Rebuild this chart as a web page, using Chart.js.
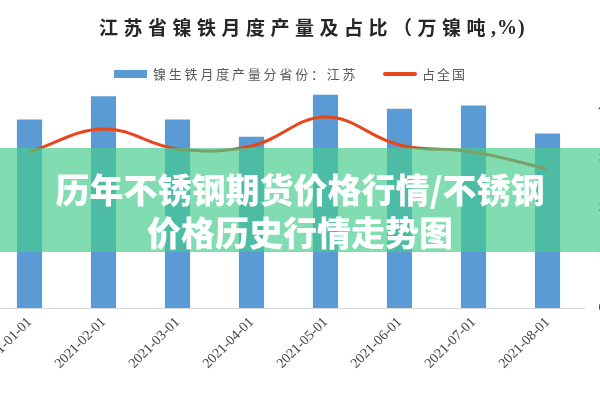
<!DOCTYPE html>
<html>
<head>
<meta charset="utf-8">
<script src="https://cdn.jsdelivr.net/npm/chart.js@4.4.0/dist/chart.umd.min.js"></script>
<style>
  html, body { margin: 0; padding: 0; background: #fff; overflow: hidden; }
  body { width: 600px; height: 400px; position: relative; }
  /* the picture is a crop of a wider chart: shift the canvas left */
  #chart { position: absolute; left: -50px; top: 0; }
  .banner {
    position: absolute; left: 0; top: 148px; width: 600px; height: 104px;
    box-sizing: border-box; padding-top: 19px;
    background: rgba(69, 205, 140, 0.68);
    color: #fff; text-align: center;
    font-family: "Noto Sans CJK SC", sans-serif; font-weight: 900;
    font-size: 34px; line-height: 43px;
  }
</style>
</head>
<body>
<canvas id="chart" width="700" height="400"></canvas>
<div class="banner">历年不锈钢期货价格行情/不锈钢<br>价格历史行情走势图</div>
<script>
const titleMain = '江苏省镍铁月度产量及占比（万镍吨';
const titleTail = ',%)';
const barLabel = '镍生铁月度产量分省份：江苏';
const lineLabel = '占全国';

const months = ['2021-01-01', '2021-02-01', '2021-03-01', '2021-04-01',
  '2021-05-01', '2021-06-01', '2021-07-01', '2021-08-01'];
// 万镍吨
const output = [1.21, 1.36, 1.21, 1.10, 1.37, 1.28, 1.30, 1.12];
// %
const share = [31.2, 35.8, 31.8, 32.4, 38.2, 32.6, 31.2, 27.8];

const BLUE = '#5b9bd5';
const RED = '#e8461b';
const SHIFT = 50; // canvas offset vs page

/* ── title + legend drawn on the canvas ── */
const headerPlugin = {
  id: 'header',
  afterDraw(chart) {
    const ctx = chart.ctx;
    ctx.save();
    ctx.textBaseline = 'middle';
    ctx.textAlign = 'left';

    ctx.fillStyle = '#262626';
    ctx.font = 'bold 19px "Noto Sans CJK SC"';
    ctx.letterSpacing = '5.5px';
    ctx.fillText(titleMain, 99 + SHIFT, 28);
    const w = ctx.measureText(titleMain).width;
    ctx.letterSpacing = '1px';
    ctx.font = 'bold 20px "Liberation Serif"';
    ctx.fillText(titleTail, 99 + SHIFT + w, 29);

    const ly = 74;
    ctx.fillStyle = BLUE;
    ctx.fillRect(114 + SHIFT, ly - 4, 33, 8);
    ctx.strokeStyle = RED;
    ctx.lineWidth = 4;
    ctx.lineCap = 'round';
    ctx.beginPath();
    ctx.moveTo(385 + SHIFT, ly);
    ctx.lineTo(415 + SHIFT, ly);
    ctx.stroke();

    ctx.fillStyle = '#595959';
    ctx.font = '13px "Noto Sans CJK SC"';
    ctx.letterSpacing = '2.8px';
    ctx.fillText(barLabel, 153 + SHIFT, ly);
    ctx.letterSpacing = '2px';
    ctx.fillText(lineLabel, 422 + SHIFT, ly);
    ctx.restore();
  }
};

new Chart(document.getElementById('chart'), {
  data: {
    labels: months,
    datasets: [
      {
        type: 'line',
        label: lineLabel,
        data: share,
        yAxisID: 'y1',
        borderColor: RED,
        borderWidth: 3,
        pointRadius: 0,
        tension: 0.4,
        order: 0,
      },
      {
        type: 'bar',
        label: barLabel,
        data: output,
        yAxisID: 'y',
        backgroundColor: BLUE,
        barPercentage: 0.34,
        categoryPercentage: 1,
        order: 1,
      },
    ],
  },
  plugins: [headerPlugin],
  options: {
    responsive: false,
    animation: false,
    layout: { padding: { left: 42.5, top: 90, right: 0, bottom: 0 } },
    plugins: {
      legend: { display: false },
      tooltip: { enabled: false },
    },
    scales: {
      x: {
        grid: { display: false, drawTicks: false },
        border: { display: true, color: '#d9d9d9', width: 1 },
        ticks: {
          autoSkip: false,
          minRotation: 45,
          maxRotation: 45,
          padding: 6,
          color: '#404040',
          font: { family: "'Liberation Serif', serif", size: 14 },
        },
        afterFit(scale) { scale.height = 92; },
      },
      y: {
        display: false,
        min: 0,
        max: 1.4,
      },
      y1: {
        position: 'right',
        min: 0,
        max: 43.6,
        grid: { display: false, drawTicks: false },
        border: { display: false },
        ticks: {
          stepSize: 10,
          includeBounds: false,
          padding: 14,
          color: '#404040',
          font: { family: "'Liberation Serif', serif", size: 13 },
        },
        afterFit(scale) { scale.width = 65.5; },
      },
    },
  },
});
</script>
</body>
</html>
